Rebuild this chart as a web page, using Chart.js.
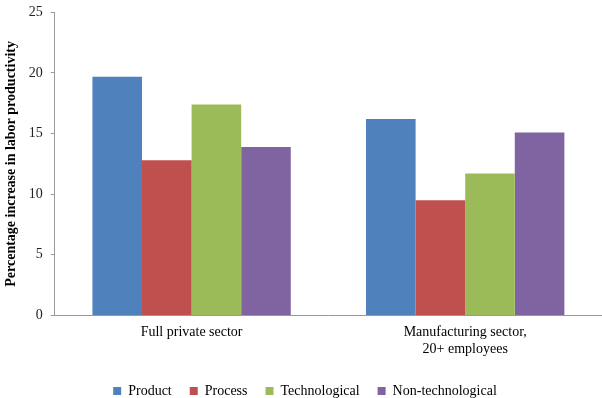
<!DOCTYPE html>
<html>
<head>
<meta charset="utf-8">
<script src="https://cdn.jsdelivr.net/npm/chart.js@4"></script>
<style>
  html, body { margin: 0; padding: 0; background: #fff; overflow: hidden; }
  #wrap { width: 602px; height: 402px; position: relative; top: -4px; }
</style>
</head>
<body>
<div id="wrap"><canvas id="grafico"></canvas></div>
<script>
// categorias e valores (leitura do gráfico)
const categorias = ["Full private sector", ["Manufacturing sector,", "20+ employees"]];
const seriesNomes = ["Product", "Process", "Technological", "Non-technological"];
const valoresProduct = [19.7, 16.2];
const valoresProcess = [12.8, 9.5];
const valoresTechnological = [17.4, 11.7];
const valoresNonTech = [13.9, 15.1];
const ticksY = [0, 5, 10, 15, 20, 25];

const cores = ["#4F81BD", "#C0504D", "#9BBB59", "#8064A2"];
const valores = [valoresProduct, valoresProcess, valoresTechnological, valoresNonTech];

const fonte = "'Liberation Serif', 'Times New Roman', serif";

const dados = {
    labels: categorias,
    datasets: seriesNomes.map((nome, i) => ({
        label: nome,
        data: valores[i],
        backgroundColor: cores[i],
        borderWidth: 0,
        barPercentage: 1.0,
        categoryPercentage: 0.725
    }))
};

const config = {
    type: "bar",
    data: dados,
    options: {
        responsive: true,
        maintainAspectRatio: false,
        animation: false,
        layout: { padding: { top: 1, right: -5, left: 3, bottom: -10 } },
        plugins: {
            legend: {
                position: "bottom",
                labels: {
                    font: { family: fonte, size: 14 },
                    color: "#000",
                    boxWidth: 8,
                    boxHeight: 8,
                    padding: 18
                }
            },
            tooltip: { enabled: false }
        },
        scales: {
            x: {
                grid: { display: false },
                border: { display: true, color: "#999" },
                ticks: {
                    font: { family: fonte, size: 14 },
                    color: "#000",
                    padding: 1,
                    maxRotation: 0
                },
                // espaço extra entre rótulos e legenda
                afterFit: (scale) => { scale.height += 7; }
            },
            y: {
                min: 0,
                max: 25,
                afterBuildTicks: (axis) => { axis.ticks = ticksY.map(v => ({ value: v })); },
                grid: { drawOnChartArea: false, drawTicks: true, tickLength: 4, color: "#999" },
                border: { display: true, color: "#999" },
                ticks: {
                    font: { family: fonte, size: 14 },
                    color: "#222",
                    padding: 8
                },
                title: {
                    display: true,
                    text: "Percentage increase in labor productivity",
                    font: { family: fonte, size: 14, weight: "bold" },
                    color: "#000",
                    padding: { top: 0, bottom: 1 }
                }
            }
        }
    }
};

let meuGrafico = new Chart(document.getElementById("grafico"), config);
</script>
</body>
</html>
